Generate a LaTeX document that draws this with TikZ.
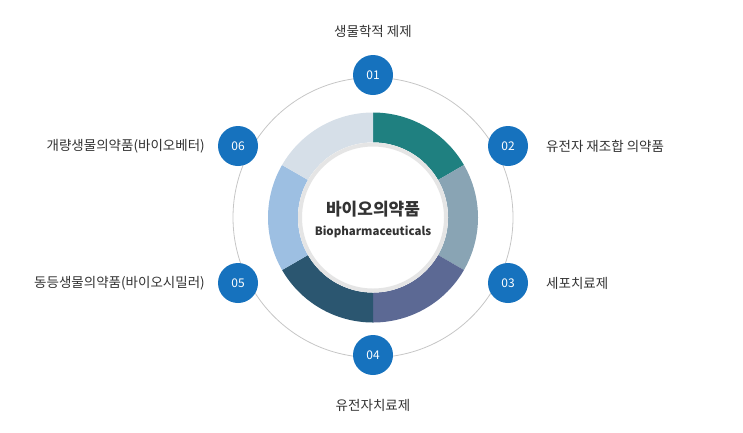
\documentclass[tikz,border=0pt]{standalone}
\usepackage{fontspec}
\setmainfont{Noto Sans CJK KR}
\begin{document}
\begin{tikzpicture}[x=1pt,y=-1pt,
  num/.style={circle,fill=numblue,minimum size=40pt,inner sep=0pt,text=white,font=\fontsize{12}{13}\selectfont},
  lbl/.style={text=textgray,font=\fontsize{13.5}{15}\selectfont,inner sep=0pt}]
\definecolor{numblue}{HTML}{1672BE}
\definecolor{textgray}{HTML}{333333}
\useasboundingbox (0,0) rectangle (743,432);
\coordinate (c) at (373,217.5);
\draw[gray!45,line width=0.8pt] (c) circle[radius=140];
\def\seg#1#2#3{\fill[#3] ([shift={(c)}]#1:105) arc[start angle=#1,end angle=#2,radius=105] -- ([shift={(c)}]#2:75) arc[start angle=#2,end angle=#1,radius=75] -- cycle;}
\definecolor{s1}{HTML}{1F8080}\definecolor{s2}{HTML}{89A4B4}\definecolor{s3}{HTML}{5C6994}
\definecolor{s4}{HTML}{2B5670}\definecolor{s5}{HTML}{9DBFE2}\definecolor{s6}{HTML}{D6DFE8}
\seg{-90}{-30}{s1}\seg{-30}{30}{s2}\seg{30}{90}{s3}\seg{90}{150}{s4}\seg{150}{210}{s5}\seg{210}{270}{s6}
\fill[white] (c) circle[radius=75];
\draw[gray!20,line width=4pt] (c) circle[radius=73];
\node[font=\fontsize{17}{19}\selectfont\bfseries,text=textgray] (t1) at (373,209) {바이오의약품};
\node[font=\fontsize{11.5}{12}\selectfont\bfseries,text=textgray] (t2) at (373,232) {Biopharmaceuticals};
\node[num] (n1) at (373,75) {01};
\node[num] (n2) at (508,146) {02};
\node[num] (n3) at (508,283) {03};
\node[num] (n4) at (373,355) {04};
\node[num] (n5) at (238,283) {05};
\node[num] (n6) at (238,146) {06};
\node[lbl] (l1) at (373,31) {생물학적 제제};
\node[lbl,anchor=west] (l2) at (546,146) {유전자 재조합 의약품};
\node[lbl,anchor=west] (l3) at (546,283) {세포치료제};
\node[lbl] (l4) at (373,405) {유전자치료제};
\node[lbl,anchor=east] (l5) at (205,283) {동등생물의약품(바이오시밀러)};
\node[lbl,anchor=east] (l6) at (205,146) {개량생물의약품(바이오베터)};
\end{tikzpicture}
\end{document}
